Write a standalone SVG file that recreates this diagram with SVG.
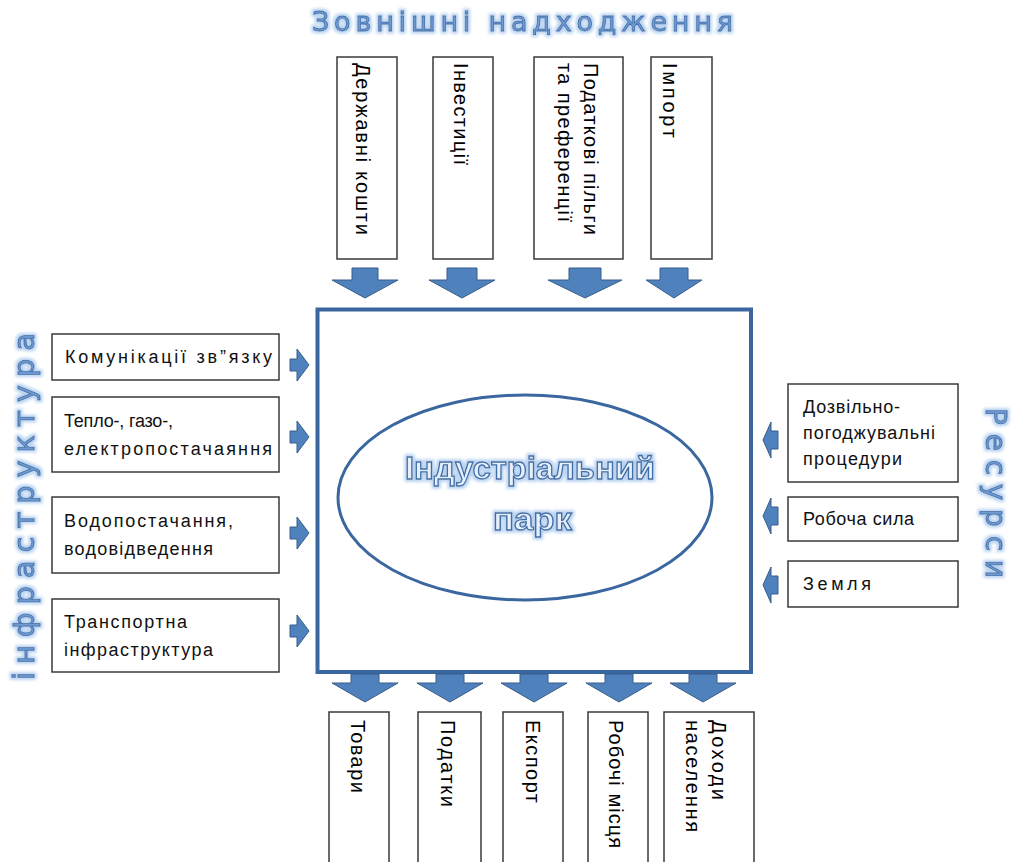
<svg xmlns="http://www.w3.org/2000/svg" width="1018" height="862" viewBox="0 0 1018 862">
<style>
.box{fill:#fff;stroke:#3a3a3a;stroke-width:1.5}
.arr{fill:#4F81BD;stroke:#385D8A;stroke-width:1}
.vt{font-family:"Liberation Sans",Arial,sans-serif;font-size:20px;fill:#000}
.ht{font-family:"Liberation Sans",Arial,sans-serif;font-size:18px;fill:#111}
.ttl{font-family:"DejaVu Sans",Verdana,sans-serif;fill:#6F9AD2;stroke:#3F6DA6;stroke-width:0.8;filter:url(#glow)}
.ctr{font-family:"Liberation Sans",Arial,sans-serif;font-weight:bold;font-size:32px;fill:#E6EFFA;stroke:#3F6DA6;stroke-width:1.3;filter:url(#glow)}
</style>
<defs>
<filter id="glow" x="-10%" y="-30%" width="120%" height="160%">
<feMorphology in="SourceAlpha" operator="dilate" radius="2" result="d"/>
<feGaussianBlur in="d" stdDeviation="1.5" result="b"/>
<feFlood flood-color="#B8D2F0"/>
<feComposite in2="b" operator="in" result="g"/>
<feMerge><feMergeNode in="g"/><feMergeNode in="SourceGraphic"/></feMerge>
</filter>
</defs>
<rect width="1018" height="862" fill="#fff"/>

<g id="title-top"><text class="ttl" x="312" y="31" font-size="27" textLength="421" lengthAdjust="spacing">Зовнішні надходження</text></g>
<g id="title-left"><text class="ttl" font-size="29" transform="translate(34,680) rotate(-90)" textLength="347" lengthAdjust="spacing">інфраструктура</text></g>
<g id="title-right"><text class="ttl" font-size="28" transform="translate(986,408) rotate(90)" textLength="170" lengthAdjust="spacing">Ресурси</text></g>

<g id="park">
<rect x="317.5" y="309.5" width="433.5" height="362.5" fill="#fff" stroke="#3B67A0" stroke-width="4"/>
<ellipse cx="525" cy="497.5" rx="187" ry="102.5" fill="#fff" stroke="#3B67A0" stroke-width="3"/>
<text class="ctr" x="405" y="479" textLength="250" lengthAdjust="spacingAndGlyphs">Індустріальний</text>
<text class="ctr" x="493" y="530" textLength="79" lengthAdjust="spacingAndGlyphs">парк</text>
</g>

<g id="top-1"><rect class="box" x="337" y="57" width="60" height="202"/><text class="vt" transform="translate(356,63) rotate(90)" textLength="172" lengthAdjust="spacing">Державні кошти</text></g>
<g id="top-2"><rect class="box" x="433" y="57" width="60" height="202"/><text class="vt" transform="translate(454,63) rotate(90)" textLength="102" lengthAdjust="spacing">Інвестиції</text></g>
<g id="top-3"><rect class="box" x="534" y="57" width="89" height="202"/><text class="vt" transform="translate(584,63) rotate(90)" textLength="172" lengthAdjust="spacing">Податкові пільги</text><text class="vt" transform="translate(558,63) rotate(90)" textLength="159" lengthAdjust="spacing">та преференції</text></g>
<g id="top-4"><rect class="box" x="651" y="57" width="61" height="202"/><text class="vt" transform="translate(663,63) rotate(90)" textLength="75" lengthAdjust="spacing">Імпорт</text></g>

<g id="left-1"><rect class="box" x="52" y="334" width="227" height="46"/><text class="ht" x="65" y="363" textLength="207" lengthAdjust="spacing">Комунікації зв”язку</text></g>
<g id="left-2"><rect class="box" x="52" y="397" width="227" height="75"/><text class="ht" x="64" y="427" textLength="109" lengthAdjust="spacing">Тепло-, газо-,</text><text class="ht" x="64" y="455" textLength="208" lengthAdjust="spacing">електропостачаяння</text></g>
<g id="left-3"><rect class="box" x="52" y="497" width="227" height="76"/><text class="ht" x="64" y="527" textLength="169" lengthAdjust="spacing">Водопостачання,</text><text class="ht" x="64" y="555" textLength="149" lengthAdjust="spacing">водовідведення</text></g>
<g id="left-4"><rect class="box" x="52" y="599" width="227" height="73"/><text class="ht" x="64" y="628" textLength="123" lengthAdjust="spacing">Транспортна</text><text class="ht" x="64" y="656" textLength="149" lengthAdjust="spacing">інфраструктура</text></g>

<g id="right-1"><rect class="box" x="788" y="384" width="170" height="98"/><text class="ht" x="803" y="413" textLength="97" lengthAdjust="spacing">Дозвільно-</text><text class="ht" x="803" y="439" textLength="132" lengthAdjust="spacing">погоджувальні</text><text class="ht" x="803" y="465" textLength="99" lengthAdjust="spacing">процедури</text></g>
<g id="right-2"><rect class="box" x="788" y="497" width="170" height="44"/><text class="ht" x="803" y="525" textLength="111" lengthAdjust="spacing">Робоча сила</text></g>
<g id="right-3"><rect class="box" x="788" y="561" width="170" height="46"/><text class="ht" x="803" y="590" textLength="68" lengthAdjust="spacing">Земля</text></g>

<g id="bottom-1"><rect class="box" x="329" y="712" width="60" height="160"/><text class="vt" transform="translate(351,720) rotate(90)" textLength="73" lengthAdjust="spacing">Товари</text></g>
<g id="bottom-2"><rect class="box" x="418" y="712" width="63" height="160"/><text class="vt" transform="translate(441,720) rotate(90)" textLength="87" lengthAdjust="spacing">Податки</text></g>
<g id="bottom-3"><rect class="box" x="503" y="712" width="60" height="160"/><text class="vt" transform="translate(526,720) rotate(90)" textLength="83" lengthAdjust="spacing">Експорт</text></g>
<g id="bottom-4"><rect class="box" x="588" y="712" width="60" height="160"/><text class="vt" transform="translate(609,720) rotate(90)" textLength="128" lengthAdjust="spacing">Робочі місця</text></g>
<g id="bottom-5"><rect class="box" x="664" y="712" width="90" height="160"/><text class="vt" transform="translate(712,720) rotate(90)" textLength="80" lengthAdjust="spacing">Доходи</text><text class="vt" transform="translate(686,720) rotate(90)" textLength="112" lengthAdjust="spacing">населення</text></g>

<g id="connectors">
<polygon class="arr" points="352,268 378,268 378,280 398,280 365,298 332,280 352,280"/>
<polygon class="arr" points="447,268 477,268 477,280 495,280 462,298 429,280 447,280"/>
<polygon class="arr" points="569,268 601,268 601,280 622,280 585,298 548,280 569,280"/>
<polygon class="arr" points="660,268 688,268 688,280 702,280 674,298 646,280 660,280"/>

<polygon class="arr" points="351,674 379,674 379,683 398,683 365,702 332,683 351,683"/>
<polygon class="arr" points="436,674 464,674 464,683 483,683 450,702 417,683 436,683"/>
<polygon class="arr" points="520,674 548,674 548,683 567,683 534,702 501,683 520,683"/>
<polygon class="arr" points="605,674 633,674 633,683 652,683 619,702 586,683 605,683"/>
<polygon class="arr" points="689,674 717,674 717,683 736,683 703,702 670,683 689,683"/>

<polygon class="arr" points="290,359 297,359 297,349 309,365 297,381 297,371 290,371"/>
<polygon class="arr" points="290,431 297,431 297,421 309,437 297,453 297,443 290,443"/>
<polygon class="arr" points="290,527 297,527 297,517 309,533 297,549 297,539 290,539"/>
<polygon class="arr" points="290,625 297,625 297,615 309,631 297,647 297,637 290,637"/>

<polygon class="arr" points="763,440 771,422 771,431 778,431 778,449 771,449 771,458"/>
<polygon class="arr" points="763,516 771,498 771,507 778,507 778,525 771,525 771,534"/>
<polygon class="arr" points="763,585 771,567 771,576 778,576 778,594 771,594 771,603"/>
</g>
</svg>
